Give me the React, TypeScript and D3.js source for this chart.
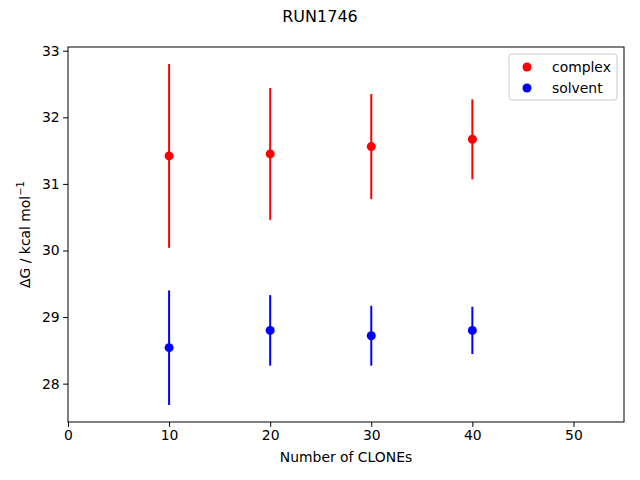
import React, { useEffect, useRef } from 'react';
import * as d3 from 'd3';

const clones = [10, 20, 30, 40];
const complexValues = [31.42, 31.45, 31.56, 31.67];
const complexErrors = [1.38, 0.99, 0.79, 0.6];
const solventValues = [28.54, 28.8, 28.72, 28.8];
const solventErrors = [0.86, 0.53, 0.45, 0.355];
const xTicks = [0, 10, 20, 30, 40, 50];
const yTicks = [28, 29, 30, 31, 32, 33];

const FONT = '"DejaVu Sans", sans-serif';

const App = () => {
  const ref = useRef<HTMLDivElement>(null);

  useEffect(() => {
    const W = 640;
    const H = 480;
    const margin = { top: 47, right: 16, bottom: 58, left: 68 };
    const width = W - margin.left - margin.right;
    const height = H - margin.top - margin.bottom;

    d3.select(ref.current).select('svg').remove();

    const root = d3
      .select(ref.current)
      .append('svg')
      .attr('width', W)
      .attr('height', H)
      .style('display', 'block')
      .style('background', '#fff');

    const series = [
      { name: 'complex', color: '#ff0000', values: complexValues, errors: complexErrors },
      { name: 'solvent', color: '#0000ff', values: solventValues, errors: solventErrors },
    ];

    // matplotlib-style autoscale with 5% margins
    const lows = series.flatMap(s => s.values.map((v, i) => v - s.errors[i]));
    const highs = series.flatMap(s => s.values.map((v, i) => v + s.errors[i]));
    const lo = d3.min(lows) as number;
    const hi = d3.max(highs) as number;
    const pad = (hi - lo) * 0.05;

    const x = d3.scaleLinear().domain([0, 55]).range([0, width]);
    const y = d3.scaleLinear().domain([lo - pad, hi + pad]).range([height, 0]);

    root.append('text')
      .attr('x', W / 2)
      .attr('y', 22)
      .attr('text-anchor', 'middle')
      .attr('font-family', FONT)
      .attr('font-size', 16)
      .text('RUN1746');

    const svg = root.append('g').attr('transform', `translate(${margin.left},${margin.top})`);

    // error bars and points
    series.forEach(s => {
      const g = svg.append('g');
      g.selectAll('line.err')
        .data(clones)
        .enter()
        .append('line')
        .attr('class', 'err')
        .attr('x1', d => x(d))
        .attr('x2', d => x(d))
        .attr('y1', (d, i) => y(s.values[i] - s.errors[i]))
        .attr('y2', (d, i) => y(s.values[i] + s.errors[i]))
        .attr('stroke', s.color)
        .attr('stroke-width', 2);
      g.selectAll('circle')
        .data(clones)
        .enter()
        .append('circle')
        .attr('cx', d => x(d))
        .attr('cy', (d, i) => y(s.values[i]))
        .attr('r', 4.5)
        .attr('fill', s.color);
    });

    // axes
    const xAxis = svg.append('g')
      .attr('transform', `translate(0,${height})`)
      .call(d3.axisBottom(x).tickValues(xTicks).tickSize(4.9).tickPadding(3.5).tickFormat(d3.format('d')));
    const yAxis = svg.append('g')
      .call(d3.axisLeft(y).tickValues(yTicks).tickSize(4.9).tickPadding(3.5).tickFormat(d3.format('d')));
    [xAxis, yAxis].forEach(a => {
      a.select('.domain').remove();
      a.selectAll('line').attr('stroke', '#000').attr('stroke-width', 1);
      a.selectAll('text').attr('font-family', FONT).attr('font-size', 13.9).attr('fill', '#000');
    });

    // frame
    svg.append('rect')
      .attr('width', width)
      .attr('height', height)
      .attr('fill', 'none')
      .attr('stroke', '#000')
      .attr('stroke-width', 1);

    svg.append('text')
      .attr('x', width / 2)
      .attr('y', height + 40)
      .attr('text-anchor', 'middle')
      .attr('font-family', FONT)
      .attr('font-size', 13.9)
      .text('Number of CLONEs');

    const yl = svg.append('text')
      .attr('transform', `translate(${-38},${height / 2}) rotate(-90)`)
      .attr('text-anchor', 'middle')
      .attr('font-family', FONT)
      .attr('font-size', 13.9);
    yl.append('tspan').text('ΔG / kcal mol');
    yl.append('tspan').attr('dy', -6).attr('font-size', 10).text('−1');

    // legend
    const lg = svg.append('g').attr('transform', `translate(${width - 115},${7})`);
    lg.append('rect')
      .attr('width', 108)
      .attr('height', 46)
      .attr('rx', 3)
      .attr('fill', '#fff')
      .attr('fill-opacity', 0.8)
      .attr('stroke', '#cccccc');
    series.forEach((s, i) => {
      lg.append('circle')
        .attr('cx', 18)
        .attr('cy', 13 + i * 21)
        .attr('r', 4.5)
        .attr('fill', s.color);
      lg.append('text')
        .attr('x', 43)
        .attr('y', 13 + i * 21)
        .attr('dy', '0.35em')
        .attr('font-family', FONT)
        .attr('font-size', 13.9)
        .text(s.name);
    });
  }, []);

  return <div ref={ref} style={{ position: 'absolute', left: 0, top: 0 }}></div>;
};

export default App;
